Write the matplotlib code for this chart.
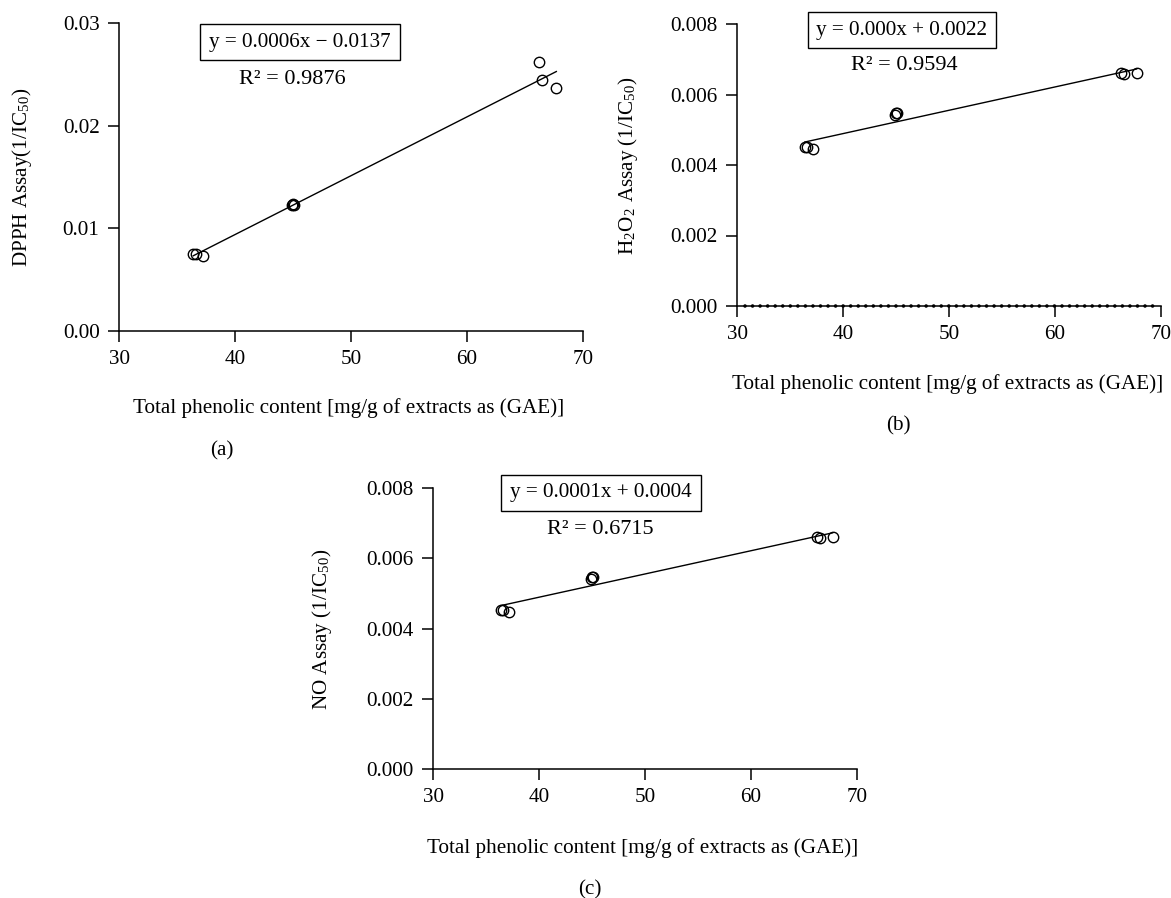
import numpy as np
import matplotlib
matplotlib.use("Agg")
import matplotlib.pyplot as plt
from matplotlib.ticker import FormatStrFormatter

plt.rcParams['font.family'] = ['Liberation Serif', 'DejaVu Serif']
plt.rcParams['mathtext.fontset'] = 'stix'

# ---- data ----
tpc = [36.4, 36.6, 37.2, 44.9, 45.0, 45.1, 66.2, 66.5, 67.7]
dpph = [0.0075, 0.0075, 0.0073, 0.0123, 0.0124, 0.0123, 0.0262, 0.0244, 0.0237]
h2o2 = [0.00452, 0.00452, 0.00446, 0.00542, 0.00548, 0.00548, 0.00661, 0.00658, 0.00661]
no_assay = [0.00452, 0.00452, 0.00446, 0.00542, 0.00548, 0.00548, 0.00661, 0.00658, 0.00661]

xticks = [30, 40, 50, 60, 70]
yticks_a = [0.00, 0.01, 0.02, 0.03]
yticks_bc = [0.000, 0.002, 0.004, 0.006, 0.008]

eq_a, r2_a = "y = 0.0006x \u2212 0.0137", "R\u00b2 = 0.9876"
eq_b, r2_b = "y = 0.000x + 0.0022", "R\u00b2 = 0.9594"
eq_c, r2_c = "y = 0.0001x + 0.0004", "R\u00b2 = 0.6715"

xlabel = "Total phenolic content [mg/g of extracts as (GAE)]"
ylabel_a = r"DPPH Assay(1/IC$_{\mathregular{50}}$)"
ylabel_b = r"H$_{\mathregular{2}}$O$_{\mathregular{2}}$ Assay (1/IC$_{\mathregular{50}}$)"
ylabel_c = r"NO Assay (1/IC$_{\mathregular{50}}$)"

W, H = 1171, 898
fig = plt.figure(figsize=(W / 100, H / 100), dpi=100)
FS = 15.2


def add_ax(l, r, t, b):
    return fig.add_axes([l / W, 1 - b / H, (r - l) / W, (b - t) / H])


def ftext(px, py, s, **kw):
    kw.setdefault('fontsize', FS)
    return fig.text(px / W, 1 - py / H, s, ha='center', va='center', **kw)


def style(ax, yticks, fmt):
    for s in ['top', 'right']:
        ax.spines[s].set_visible(False)
    for s in ['left', 'bottom']:
        ax.spines[s].set_linewidth(1.1)
    ax.set_xlim(30, 70)
    ax.set_ylim(yticks[0], yticks[-1])
    ax.set_xticks(xticks)
    ax.set_yticks(yticks)
    ax.yaxis.set_major_formatter(FormatStrFormatter(fmt))
    ax.tick_params(direction='out', length=8, width=1.1, labelsize=FS, pad=6)


def draw(ax, x, y):
    x = np.asarray(x)
    y = np.asarray(y)
    k, b0 = np.polyfit(x, y, 1)
    xs = np.array([x.min(), x.max()])
    ax.plot(xs, k * xs + b0, color='black', lw=1.0, zorder=2)
    ax.plot(x, y, linestyle='none', marker='o', markersize=7.5, markerfacecolor='none',
            markeredgecolor='black', markeredgewidth=1.0, clip_on=False, zorder=3)


# panel a
ax_a = add_ax(119, 583, 23, 331)
style(ax_a, yticks_a, '%.2f')
draw(ax_a, tpc, dpph)

# panel b
ax_b = add_ax(737, 1161, 24, 306)
style(ax_b, yticks_bc, '%.3f')
draw(ax_b, tpc, h2o2)
ax_b.axhline(0, xmin=0.018, xmax=0.99, color='black', lw=2.6,
             linestyle=(0, (0.01, 2.08)), dash_capstyle='round', zorder=4, clip_on=False)

# panel c
ax_c = add_ax(433, 857, 488, 769)
style(ax_c, yticks_bc, '%.3f')
draw(ax_c, tpc, no_assay)

box = dict(boxstyle='square,pad=0.42', facecolor='white', edgecolor='black', linewidth=1.0)
ftext(300, 42, eq_a, bbox=box)
ftext(292, 80, r2_a, fontsize=FS + 0.8)
ftext(902, 30, eq_b, bbox=box)
ftext(904, 65, r2_b, fontsize=FS + 0.8)
ftext(601, 493, eq_c, bbox=box)
ftext(600, 529, r2_c, fontsize=FS + 0.8)

ftext(22, 177, ylabel_a, rotation=90)
ftext(628, 166, ylabel_b, rotation=90)
ftext(322, 629, ylabel_c, rotation=90)

ftext(349, 408, xlabel)
ftext(948, 384, xlabel)
ftext(643, 848, xlabel)

ftext(222, 451, "(a)")
ftext(898, 426, "(b)")
ftext(590, 890, "(c)")

fig.savefig("out.png", dpi=100)
